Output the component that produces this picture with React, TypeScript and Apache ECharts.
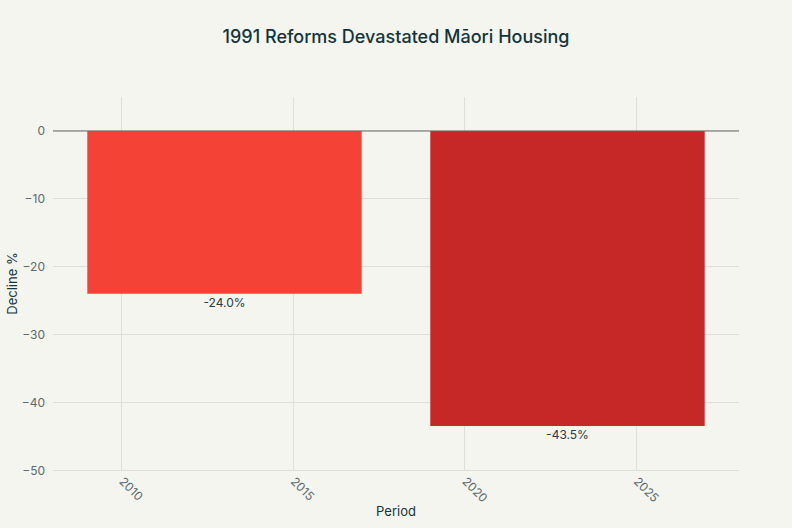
import React, { useEffect, useRef } from "react";
import * as echarts from "echarts";

const TITLE = "1991 Reforms Devastated Māori Housing";
const periods = [2013, 2023];
const declines = [-24.0, -43.5];
const barColors = ["#F44336", "#C62828"];
const xTicks = [2010, 2015, 2020, 2025];
const yTicks = [-50, -40, -30, -20, -10, 0];
const X_MIN = 2008;
const X_MAX = 2028;
const Y_MIN = -50;
const Y_MAX = 5;
const BAR_WIDTH = 8;

const FONT = "Inter, 'Noto Sans', sans-serif";
const BG = "#F5F5F0";
const GRID = "#DFDFDA";
const TEXT = "#13343B";
const TICK_TEXT = "#5B6B70";

export default function App() {
  const ref = useRef<HTMLDivElement>(null);
  useEffect(() => {
    if (!ref.current) return;
    const chart = echarts.init(ref.current, undefined, { renderer: "svg" });
    const barData = periods.map((p, i) => [p, declines[i], i]);
    chart.setOption({
      animation: false,
      backgroundColor: BG,
      textStyle: { fontFamily: FONT },
      title: {
        text: TITLE,
        left: "center",
        top: 22,
        textStyle: { fontFamily: FONT, fontSize: 18, fontWeight: 500, color: TEXT },
      },
      grid: { left: 53, right: 53, top: 97, bottom: 58, outerBoundsMode: "none", containLabel: false },
      xAxis: {
        type: "value",
        min: X_MIN,
        max: X_MAX,
        name: "Period",
        nameLocation: "middle",
        nameGap: 34,
        nameMoveOverlap: false,
        nameTextStyle: { fontFamily: FONT, fontSize: 13, color: TEXT },
        axisLine: { show: false },
        axisTick: { show: true, length: 4, lineStyle: { color: GRID }, customValues: xTicks },
        axisLabel: {
          customValues: xTicks,
          rotate: -45,
          margin: 9,
          fontSize: 12,
          color: TICK_TEXT,
          fontFamily: FONT,
          formatter: (v: number) => String(v),
        },
        splitLine: { show: true, lineStyle: { color: GRID, width: 1 } },
      },
      yAxis: {
        type: "value",
        min: Y_MIN,
        max: Y_MAX,
        name: "Decline %",
        nameLocation: "middle",
        nameGap: 35,
        nameMoveOverlap: false,
        nameTextStyle: { fontFamily: FONT, fontSize: 13, color: TEXT },
        axisLine: { show: false },
        axisTick: { show: false, customValues: yTicks },
        axisLabel: {
          customValues: yTicks,
          margin: 8,
          fontSize: 12,
          color: TICK_TEXT,
          fontFamily: FONT,
          formatter: (v: number) => (v < 0 ? "\u2212" + Math.abs(v) : String(v)),
        },
        splitLine: { show: true, lineStyle: { color: GRID, width: 1 } },
      },
      series: [
        {
          type: "custom",
          data: barData,
          encode: { x: 0, y: 1 },
          renderItem: (params: any, api: any) => {
            const x = api.value(0);
            const v = api.value(1);
            const idx = api.value(2);
            const p0 = api.coord([x - BAR_WIDTH / 2, 0]);
            const p1 = api.coord([x + BAR_WIDTH / 2, v]);
            return {
              type: "group",
              children: [
                {
                  type: "rect",
                  shape: { x: p0[0], y: p0[1], width: p1[0] - p0[0], height: p1[1] - p0[1] },
                  style: { fill: barColors[idx] },
                },
                {
                  type: "text",
                  x: (p0[0] + p1[0]) / 2,
                  y: p1[1] + 3,
                  style: {
                    text: v.toFixed(1) + "%",
                    align: "center",
                    verticalAlign: "top",
                    fill: "#2B3A40",
                    fontSize: 12,
                    fontFamily: FONT,
                  },
                },
              ],
            };
          },
          z: 2,
        },
        {
          type: "line",
          data: [
            [X_MIN, 0],
            [X_MAX, 0],
          ],
          symbol: "none",
          lineStyle: { color: "#6B6B6B", width: 1 },
          silent: true,
          z: 3,
        },
      ],
    });
    return () => chart.dispose();
  }, []);
  return (
    <div
      ref={ref}
      style={{ position: "fixed", left: 0, top: 0, width: 792, height: 528 }}
    />
  );
}
